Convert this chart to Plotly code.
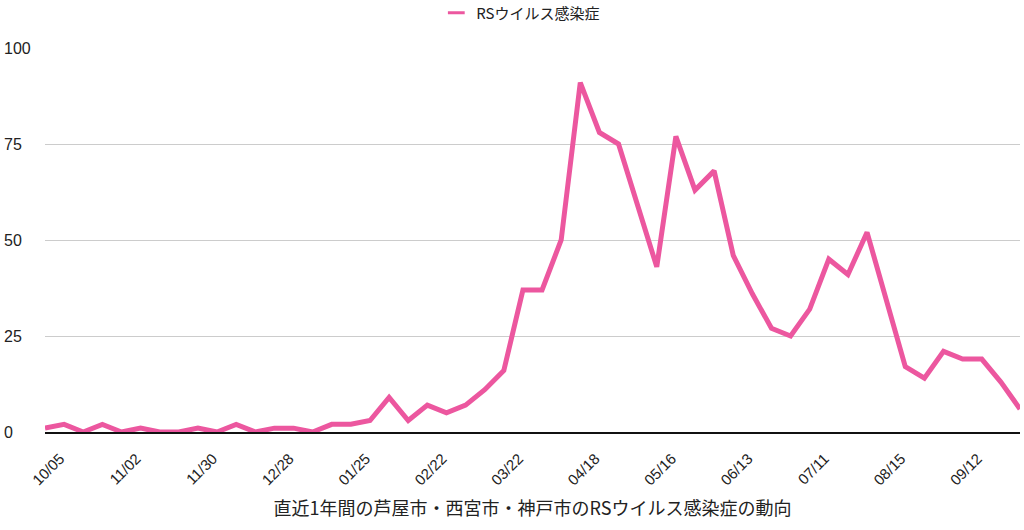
import plotly.graph_objects as go

weeks = ["10/05","10/12","10/19","10/26","11/02","11/09","11/16","11/23","11/30","12/07",
         "12/14","12/21","12/28","01/04","01/11","01/18","01/25","02/01","02/08","02/15",
         "02/22","03/01","03/08","03/15","03/22","03/29","04/05","04/12","04/18","04/25",
         "05/02","05/09","05/16","05/23","05/30","06/06","06/13","06/20","06/27","07/04",
         "07/11","07/18","07/25","08/01","08/15","08/22","08/29","09/05","09/12","09/19",
         "09/26","10/03"]
values = [1,2,0,2,0,1,0,0,1,0,
          2,0,1,1,0,2,2,3,9,3,
          7,5,7,11,16,37,37,50,91,78,
          75,59,43,77,63,68,46,36,27,25,
          32,45,41,52,35,17,14,21,19,19,
          13,6]
series_name = "RSウイルス感染症"
x_title = "直近1年間の芦屋市・西宮市・神戸市のRSウイルス感染症の動向"
y_ticks = [0, 25, 50, 75, 100]
x_tick_idx = list(range(0, len(weeks), 4))

FONT = "Liberation Sans, Noto Sans CJK JP, sans-serif"
CJK = "Noto Sans CJK JP, sans-serif"
PINK = "#EC579F"
idx = list(range(len(weeks)))

fig = go.Figure()
fig.add_trace(go.Scatter(
    x=idx, y=values, mode="lines", name=series_name,
    line=dict(color=PINK, width=5), showlegend=False,
))
# legend entry with a short dash
fig.add_trace(go.Scatter(
    x=[None], y=[None], mode="markers", name=series_name,
    marker=dict(symbol="line-ew-open", size=12, color=PINK, line=dict(color=PINK, width=3)),
    showlegend=True,
))

fig.update_layout(
    width=1024, height=530,
    margin=dict(l=45, r=4, t=48, b=98, autoexpand=False),
    paper_bgcolor="white", plot_bgcolor="white",
    font=dict(family=FONT, color="#222", size=14),
    showlegend=True,
    legend=dict(orientation="h", x=0.488, xanchor="center", y=1.091, yanchor="middle",
                yref="paper", font=dict(size=15, color="#222", family=CJK)),
    xaxis=dict(
        range=[0, len(weeks) - 1], automargin=False,
        tickmode="array", tickvals=x_tick_idx, ticktext=[weeks[i] for i in x_tick_idx],
        tickangle=-45, tickfont=dict(size=15, color="#222", family=FONT),
        ticklabelshift=15, ticklabelstandoff=10,
        showgrid=False, zeroline=False, showline=True, linecolor="#111", linewidth=2,
        ticks="", title=dict(text=x_title, font=dict(size=18, color="#222", family=CJK), standoff=15),
    ),
    yaxis=dict(
        range=[0, 100], tickvals=y_ticks, showticklabels=False, automargin=False,
        showgrid=True, gridcolor="#cccccc", gridwidth=1, zeroline=False, ticks="",
    ),
)

for t in y_ticks:
    fig.add_annotation(x=-43/975, xref="paper", y=t, yref="y", text=str(t),
                       showarrow=False, xanchor="left", yanchor="middle",
                       font=dict(size=16, color="#222", family=FONT))

fig.write_html("out.html", config={"displayModeBar": False},
               post_script="document.body.style.margin='0';document.body.style.padding='0';")
